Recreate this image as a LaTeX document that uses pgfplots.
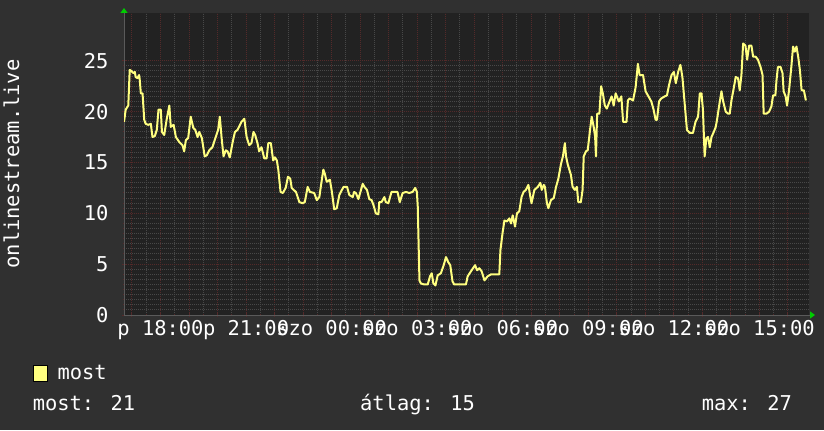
\documentclass[border=0pt]{standalone}
\usepackage{fontspec}
\setmainfont{DejaVu Sans Mono}
\usepackage{pgfplots}
\pgfplotsset{compat=1.18}
\usetikzlibrary{arrows.meta}
\definecolor{canvasbg}{HTML}{303030}
\definecolor{plotbg}{HTML}{222222}
\definecolor{minorgrid}{HTML}{484848}
\definecolor{majorgrid}{HTML}{542A2A}
\definecolor{linecol}{HTML}{FFFF80}
\definecolor{arrowgreen}{HTML}{00CC00}
\definecolor{axiscol}{HTML}{5A5A5A}
\newcommand{\rrdfont}{\fontsize{20.5}{24}\selectfont}
\begin{document}
\begin{tikzpicture}[x=1bp,y=1bp]
\fill[canvasbg] (0,0) rectangle (824,430);
\path[use as bounding box] (0,0) rectangle (824,430);
\begin{axis}[
  at={(124bp,115bp)}, anchor=south west,
  scale only axis, width=685bp, height=302bp,
  xmin=16.72, xmax=40.74, ymin=0, ymax=29.7,
  axis lines=left,
  axis line style={axiscol, line width=1bp},
  x axis line style={-{Triangle[width=7bp,length=5bp,color=arrowgreen]}, shorten >=-6bp},
  y axis line style={-{Triangle[width=7bp,length=5bp,color=arrowgreen]}, shorten >=-5bp},
  axis background/.style={fill=plotbg},
  /pgf/number format/assume math mode=true,
  every tick label/.append style={font=\rrdfont, text=white},
  ytick={0,5,...,25},
  minor y tick num=9,
  xtick={17,...,40},
  xticklabels={,p 18:00,,,p 21:00,,,szo 00:00,,,szo 03:00,,,szo 06:00,,,szo 09:00,,,szo 12:00,,,szo 15:00,},
  minor x tick num=1,
  grid=both,
  major grid style={majorgrid, dash pattern=on 1bp off 1bp, line width=1bp},
  minor grid style={minorgrid, dash pattern=on 1bp off 1bp, line width=1bp},
  major tick length=4bp, minor tick length=2bp,
  every tick/.style={majorgrid, line width=1bp},
  yticklabel style={anchor=east, xshift=-10bp},
  ylabel={onlinestream.live},
  every axis y label/.style={at={(axis description cs:-0.1642,0.5)}, rotate=90, anchor=center, font=\rrdfont, text=white},
  legend style={at={(axis description cs:-0.1334,-0.160)}, anchor=north west, draw=none, fill=none, inner sep=0pt, outer sep=0pt, font=\rrdfont, text=white, /tikz/every odd column/.append style={column sep=8bp}},
  legend cell align=left,
  legend image code/.code={\draw[fill=linecol,draw=black,line width=1bp] (0bp,-8bp) rectangle (14bp,8bp);},
]
\addplot[color=linecol, line width=2bp, line join=round] coordinates {
(16.72,19.0)(16.78,20.2)(16.87,20.6)(16.92,24.1)(16.98,24.0)(17.04,23.8)(17.10,23.9)
(17.13,23.4)(17.19,23.3)(17.25,23.6)(17.27,23.2)(17.31,21.8)(17.37,21.8)(17.43,19.2)
(17.48,18.8)(17.57,18.7)(17.66,18.8)(17.72,17.5)(17.80,17.6)(17.87,18.2)(17.93,20.2)
(18.01,20.2)(18.05,18.0)(18.13,17.7)(18.22,19.3)(18.31,20.6)(18.36,18.5)(18.46,18.7)
(18.54,17.5)(18.66,17.0)(18.77,16.7)(18.83,16.1)(18.89,17.2)(18.97,17.4)(19.06,19.5)
(19.15,18.4)(19.22,18.2)(19.30,17.5)(19.36,18.0)(19.45,17.4)(19.55,15.6)(19.62,15.7)
(19.71,16.2)(19.82,16.5)(19.96,17.7)(20.02,18.2)(20.08,19.5)(20.14,17.5)(20.21,15.6)
(20.29,16.2)(20.35,16.1)(20.43,15.5)(20.53,17.0)(20.61,18.0)(20.70,18.2)(20.84,19.0)
(20.94,19.3)(21.02,17.5)(21.11,16.7)(21.19,16.9)(21.26,18.0)(21.32,17.7)(21.40,16.9)
(21.46,16.1)(21.54,16.5)(21.64,15.4)(21.72,15.4)(21.78,16.9)(21.87,16.9)(21.95,15.2)
(22.01,15.5)(22.08,15.2)(22.13,14.3)(22.21,12.1)(22.29,12.0)(22.39,12.5)(22.47,13.6)
(22.55,13.4)(22.60,12.5)(22.67,12.3)(22.75,12.1)(22.87,11.1)(22.98,11.0)(23.06,11.1)
(23.16,12.6)(23.24,12.1)(23.39,12.0)(23.48,11.3)(23.57,11.6)(23.62,12.6)(23.71,14.3)
(23.76,13.9)(23.83,13.1)(23.94,13.3)(24.01,12.1)(24.09,10.4)(24.18,10.5)(24.27,11.8)
(24.36,12.3)(24.42,12.6)(24.54,12.6)(24.62,11.8)(24.74,11.6)(24.79,12.1)(24.85,12.0)
(24.94,11.4)(25.01,12.1)(25.09,12.9)(25.15,12.6)(25.24,12.3)(25.32,11.4)(25.40,11.3)
(25.47,10.8)(25.55,10.0)(25.64,9.9)(25.67,11.1)(25.75,11.1)(25.85,11.6)(25.90,11.1)
(25.99,11.0)(26.10,12.1)(26.31,12.1)(26.39,11.1)(26.49,12.0)(26.61,12.1)(26.72,12.0)
(26.84,12.1)(26.93,12.5)(26.99,12.1)(27.02,10.7)(27.08,3.4)(27.13,3.1)(27.25,3.0)
(27.37,3.0)(27.45,3.8)(27.51,4.1)(27.57,3.1)(27.64,2.9)(27.72,3.9)(27.83,4.1)
(27.93,4.9)(28.01,5.7)(28.09,5.2)(28.16,4.9)(28.24,3.3)(28.30,3.0)(28.59,3.0)
(28.71,3.0)(28.77,3.8)(28.91,4.4)(29.03,4.9)(29.10,4.4)(29.18,4.6)(29.26,4.3)
(29.36,3.4)(29.47,3.8)(29.59,4.0)(29.88,4.0)(29.92,6.4)(30.00,8.2)(30.06,9.3)
(30.15,9.2)(30.23,9.5)(30.29,9.0)(30.35,9.8)(30.43,8.7)(30.50,10.0)(30.58,10.2)
(30.66,11.6)(30.73,12.1)(30.81,12.3)(30.90,12.8)(30.97,11.6)(31.01,11.0)(31.11,12.3)
(31.23,12.6)(31.32,13.0)(31.37,12.3)(31.44,12.8)(31.48,12.6)(31.55,11.0)(31.60,10.5)
(31.69,11.3)(31.79,11.5)(31.87,12.6)(31.95,13.4)(32.04,14.8)(32.11,15.6)(32.18,16.9)
(32.22,15.6)(32.28,14.8)(32.39,13.8)(32.45,12.6)(32.53,12.3)(32.60,12.6)(32.65,11.1)
(32.74,11.1)(32.80,12.3)(32.84,15.6)(32.92,16.1)(32.98,16.2)(33.07,18.4)(33.12,19.5)
(33.19,18.5)(33.24,17.5)(33.27,15.6)(33.31,19.8)(33.39,19.8)(33.45,22.5)(33.51,21.8)
(33.58,20.6)(33.65,20.3)(33.72,20.8)(33.82,21.5)(33.89,20.6)(33.96,21.8)(34.07,21.0)
(34.16,21.5)(34.22,19.0)(34.34,19.0)(34.39,21.1)(34.45,21.3)(34.57,21.1)(34.66,22.4)
(34.74,24.7)(34.80,23.6)(34.92,23.6)(35.01,22.0)(35.09,21.6)(35.21,21.0)(35.29,20.2)
(35.36,19.2)(35.41,19.2)(35.48,21.0)(35.56,21.3)(35.68,21.5)(35.76,21.6)(35.83,22.6)
(35.92,23.6)(36.00,23.9)(36.07,22.8)(36.15,23.9)(36.23,24.6)(36.30,23.4)(36.38,20.8)
(36.46,18.2)(36.56,17.9)(36.67,17.9)(36.76,19.0)(36.85,19.5)(36.91,21.8)(36.97,21.8)
(37.02,20.2)(37.08,15.6)(37.14,17.4)(37.20,17.5)(37.26,16.5)(37.32,17.5)(37.40,18.0)
(37.47,18.5)(37.52,19.3)(37.59,20.6)(37.67,22.0)(37.73,21.0)(37.82,20.0)(37.90,19.8)
(37.96,19.8)(38.02,21.1)(38.10,22.3)(38.17,23.4)(38.25,23.3)(38.31,22.1)(38.37,23.6)
(38.43,26.7)(38.51,26.5)(38.57,25.1)(38.64,26.5)(38.72,26.5)(38.78,25.4)(38.87,25.4)
(38.95,25.1)(39.04,24.4)(39.11,23.6)(39.15,19.8)(39.25,19.8)(39.34,20.0)(39.42,20.5)
(39.48,21.6)(39.56,21.6)(39.60,23.1)(39.65,24.4)(39.74,24.4)(39.81,23.8)(39.85,22.0)
(39.92,21.5)(39.97,20.6)(40.04,22.1)(40.12,24.4)(40.18,26.4)(40.24,25.9)(40.30,26.4)
(40.36,25.4)(40.42,24.1)(40.48,22.1)(40.56,22.1)(40.63,21.1)
};
\addlegendentry{most}
\end{axis}
\node[anchor=base west, inner sep=0pt, text=white, font=\rrdfont] at (32.6,20) {most: 21};
\node[anchor=base west, inner sep=0pt, text=white, font=\rrdfont] at (360,20) {átlag: 15};
\node[anchor=base west, inner sep=0pt, text=white, font=\rrdfont] at (701.6,20) {max: 27};
\end{tikzpicture}
\end{document}
